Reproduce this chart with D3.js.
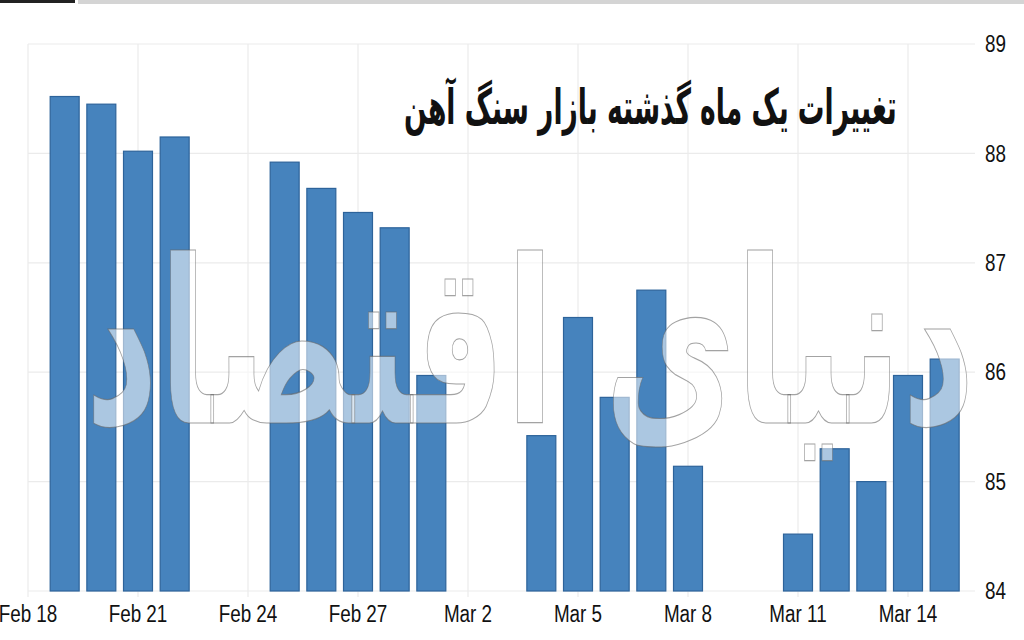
<!DOCTYPE html>
<html>
<head>
<meta charset="utf-8">
<script src="https://cdn.jsdelivr.net/npm/d3@7/dist/d3.min.js"></script>
<style>
  html, body { margin: 0; padding: 0; background: #fff; }
  svg { display: block; }
</style>
</head>
<body>
<svg id="chart"></svg>
<script>
// data (iron ore, one month)
const dates = ["2019-02-19", "2019-02-20", "2019-02-21", "2019-02-22",
	"2019-02-25", "2019-02-26", "2019-02-27", "2019-02-28", "2019-03-01",
	"2019-03-04", "2019-03-05", "2019-03-06", "2019-03-07", "2019-03-08",
	"2019-03-11", "2019-03-12", "2019-03-13", "2019-03-14", "2019-03-15"];
const prices = [88.52, 88.45, 88.02, 88.15,
	87.92, 87.68, 87.46, 87.32, 85.97,
	85.42, 86.50, 85.77, 86.75, 85.14,
	84.52, 85.30, 85.00, 85.97, 86.12];
const xTicks = ["2019-02-18", "2019-02-21", "2019-02-24", "2019-02-27", "2019-03-02",
	"2019-03-05", "2019-03-08", "2019-03-11", "2019-03-14"];
const yTicks = [84, 85, 86, 87, 88, 89];
const title = "تغییرات یک ماه گذشته بازار سنگ آهن";
const watermark = "دنیای اقتصاد";

const width = 1024, height = 640;
const svg = d3.select("#chart").attr("width", width).attr("height", height);

const parse = d3.utcParse("%Y-%m-%d");
const fmt = d3.utcFormat("%b %-d");

const x = d3.scaleUtc()
	.domain([parse("2019-02-18"), parse("2019-03-14")])
	.range([28, 908]);
const y = d3.scaleLinear().domain([84, 89]).range([591, 44]);
const day = x(parse("2019-02-19")) - x(parse("2019-02-18"));
const barW = day * 0.79;

// squeeze a text node into a box
function fitBox(sel, x0, y0, x1, y1) {
	let bb = sel.node().getBBox();
	let sx = (x1 - x0) / bb.width, sy = (y1 - y0) / bb.height;
	sel.attr("transform", "translate(" + (x0 - bb.x * sx) + "," + (y0 - bb.y * sy) + ") scale(" + sx + "," + sy + ")");
}

// top strip
svg.append("rect").attr("x", 0).attr("y", 0).attr("width", 75).attr("height", 3).attr("fill", "#222");
svg.append("rect").attr("x", 78).attr("y", 0).attr("width", 946).attr("height", 4).attr("fill", "#d4d4d4");

// grid
let grid = svg.append("g");
grid.selectAll("line.h")
	.data(yTicks)
	.enter()
	.append("line")
	.attr("x1", 28).attr("x2", 975)
	.attr("y1", d => y(d)).attr("y2", d => y(d))
	.attr("stroke", "#ebebeb").attr("stroke-width", 1.2);
grid.selectAll("line.v")
	.data(xTicks)
	.enter()
	.append("line")
	.attr("x1", d => x(parse(d))).attr("x2", d => x(parse(d)))
	.attr("y1", y(89)).attr("y2", y(84) + 6)
	.attr("stroke", "#ebebeb").attr("stroke-width", 1.2);

// title
let t = svg.append("text")
	.attr("x", 0).attr("y", 0)
	.style("font-family", "'DejaVu Sans'")
	.style("font-weight", "bold")
	.style("font-size", "40px")
	.attr("fill", "#111")
	.text(title);
fitBox(t, 404, 76, 897, 136);

// bars
svg.append("g")
	.selectAll("rect")
	.data(dates)
	.enter()
	.append("rect")
	.attr("x", d => x(parse(d)) - barW / 2)
	.attr("y", (d, i) => y(prices[i]))
	.attr("width", barW)
	.attr("height", (d, i) => y(84) - y(prices[i]))
	.attr("fill", "#4683bd")
	.attr("stroke", "#2d639a")
	.attr("stroke-width", 1.2);

// watermark
let wm = svg.append("text")
	.attr("x", 0).attr("y", 0)
	.style("font-family", "'DejaVu Sans'")
	.style("font-weight", "bold")
	.style("font-size", "100px")
	.attr("fill", "#fff")
	.attr("fill-opacity", 0.55)
	.attr("stroke", "#666")
	.attr("stroke-opacity", 0.6)
	.attr("stroke-width", 0.5)
	.text(watermark);
fitBox(wm, 85, 212, 975, 478);

// x axis labels
svg.append("g")
	.selectAll("text")
	.data(xTicks)
	.enter()
	.append("text")
	.attr("transform", d => "translate(" + x(parse(d)) + ",622) scale(0.82,1)")
	.attr("text-anchor", "middle")
	.style("font-family", "'Liberation Sans'")
	.style("font-size", "23px")
	.attr("fill", "#111")
	.text(d => fmt(parse(d)));

// y axis labels (right side)
svg.append("g")
	.selectAll("text")
	.data(yTicks)
	.enter()
	.append("text")
	.attr("transform", d => "translate(985," + y(d) + ") scale(0.82,1)")
	.attr("dy", "0.36em")
	.style("font-family", "'Liberation Sans'")
	.style("font-size", "23px")
	.attr("fill", "#111")
	.text(d => d);
</script>
</body>
</html>
